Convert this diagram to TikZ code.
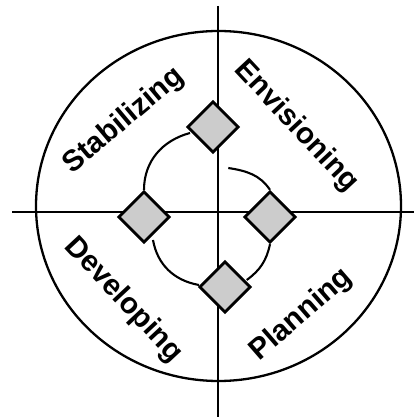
\documentclass[tikz,border=0pt]{standalone}
\usepackage{fontspec}
\setmainfont{Liberation Sans}
\usetikzlibrary{calc,shapes.geometric}
\begin{document}
\begin{tikzpicture}[x=1pt,y=1pt,
  axis/.style={line width=2.3pt},
  ring/.style={line width=2.3pt},
  milestone/.style={draw, line width=2.9pt, fill=black!20, rectangle, rotate=45,
    minimum size=35.5pt, inner sep=0pt},
  link/.style={line width=2.1pt},
  phase/.style={font=\bfseries\fontsize{29.5}{31}\selectfont, inner sep=0pt}]
\useasboundingbox (0,0) rectangle (414,417);
% ring
\node[draw, ring, ellipse, minimum width=365pt, minimum height=350pt, inner sep=0pt] (ring) at (218.5,211) {};
% axes
\coordinate (vt) at (218,411);
\coordinate (vb) at (218,0);
\coordinate (hl) at (12,205);
\coordinate (hr) at (414,205);
\draw[axis] (vt) -- (vb);
\draw[axis] (hl) -- (hr);
% milestones
\node[milestone] (top) at (213,290) {};
\node[milestone] (left) at (144,200) {};
\node[milestone] (right) at (270,200) {};
\node[milestone] (bottom) at (225,130) {};
\coordinate (free) at (228.3,249);
% links
\draw[link] ($(top)+(-23,-6)$) to[out=195,in=90] (left.north east);
\draw[link] ($(left)+(9,-23)$) to[out=280,in=170] ($(bottom)+(-26,2)$);
\draw[link] ($(bottom)+(21.7,7)$) to[out=36,in=258] (right.south west);
\draw[link] (right.north east) to[out=124,in=351] (free);
% phases
\node[phase, rotate=40] (stab) at (124,296) {Stabilizing};
\node[phase, rotate=-47] (env) at (296.5,290.5) {Envisioning};
\node[phase, rotate=-47] (dev) at (123.5,117) {Developing};
\node[phase, rotate=41] (plan) at (301.5,102) {Planning};
\end{tikzpicture}
\end{document}
